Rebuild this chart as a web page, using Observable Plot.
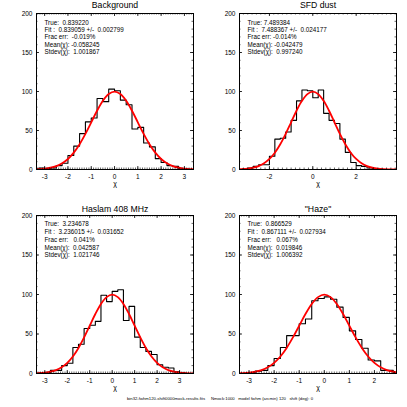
<!DOCTYPE html>
<html><head><meta charset="utf-8">
<script src="https://cdn.jsdelivr.net/npm/d3@7"></script>
<script src="https://cdn.jsdelivr.net/npm/@observablehq/plot@0.6"></script>
<style>
html,body{margin:0;padding:0;background:#fff;}
#root{position:relative;width:407px;height:407px;overflow:hidden;background:#fff;}
.panel{position:absolute;}
svg text{white-space:pre;}
</style></head><body><div id="root"></div>
<script>
// ---------- data ----------
const titles = ["Background", "SFD dust", "Haslam 408 MHz", "\"Haze\""];
const binLower = [-3.5,-3.25,-3.0,-2.75,-2.5,-2.25,-2.0,-1.75,-1.5,-1.25,-1.0,-0.75,-0.5,-0.25,0,
                  0.25,0.5,0.75,1.0,1.25,1.5,1.75,2.0,2.25,2.5,2.75,3.0,3.25,3.5,3.75];
const binWidth = 0.25;
const countsBackground = [0,2,1,2,5,8,18,30,46,61,66,91,87,103,101,89,83,52,54,34,29,14,9,5,4,1,0,0,0,0];
const countsSFD        = [0,1,2,4,6,6,17,39,40,48,63,88,102,101,92,102,72,63,59,39,22,9,5,4,2,1,0,0,0,0];
const countsHaslam     = [0,1,1,4,4,10,13,33,37,57,61,66,99,91,104,106,67,85,46,33,28,24,11,8,7,2,1,0,0,0];
const countsHaze       = [0,0,1,3,4,10,19,33,48,48,63,69,92,95,97,94,84,71,54,43,32,17,16,4,4,1,0,0,0,0];
const counts = [countsBackground, countsSFD, countsHaslam, countsHaze];

// red model curve (unit gaussian scaled to the histogram)
const curveX = [-4,-3.75,-3.5,-3.25,-3,-2.75,-2.5,-2.25,-2,-1.75,-1.5,-1.25,-1,-0.75,-0.5,-0.25,0,
                0.25,0.5,0.75,1,1.25,1.5,1.75,2,2.25,2.5,2.75,3,3.25,3.5,3.75,4];
const curveY = [0.03,0.09,0.22,0.51,1.11,2.27,4.38,7.94,13.50,21.57,32.38,45.66,60.49,75.29,88.02,96.67,99.73,
                96.67,88.02,75.29,60.49,45.66,32.38,21.57,13.50,7.94,4.38,2.27,1.11,0.51,0.22,0.09,0.03];

const statLines = [
  ["True:  0.839220", "Fit :  0.839059 +/-  0.002799", "Frac err:  -0.019%", "Mean(χ): -0.058245", "Stdev(χ):  1.001867"],
  ["True: 7.489384", "Fit :  7.488367 +/-  0.024177", "Frac err: -0.014%", "Mean(χ): -0.042479", "Stdev(χ):  0.997240"],
  ["True:  3.234678", "Fit :  3.236015 +/-  0.031652", "Frac err:   0.041%", "Mean(χ):  0.042587", "Stdev(χ):  1.021746"],
  ["True:  0.866529", "Fit :  0.867111 +/-  0.027934", "Frac err:   0.067%", "Mean(χ):  0.019846", "Stdev(χ):  1.006392"]
];
const xDomains = [[-3.35, 3.39], [-3.38, 3.86], [-3.37, 3.62], [-3.38, 2.88]];
const xMajorTicks = [[-3,-2,-1,0,1,2,3], [-2,0,2], [-3,-2,-1,0,1,2,3], [-3,-2,-1,0,1,2]];
const xMinorStep = [0.1, 0.2, 0.1, 0.1];
const yDomain = [0, 200];
const yMajorTicks = [0, 50, 100, 150, 200];
const yMinorStep = 10;
const xLabel = "χ";
const caption = "bin32-fwhm120-shift0000mock-results.fits     Nmock:1000   model fwhm (arcmin) 120   shift (deg): 0";

// ---------- layout ----------
const layout = [
  {left: 0,   top: 0,   height: 200, mt: 13, mb: 31, titleDy: -5.3, statDy: 11, statStep: 7.4},
  {left: 203, top: 0,   height: 200, mt: 13, mb: 31, titleDy: -5.3, statDy: 11, statStep: 7.4},
  {left: 0,   top: 200, height: 207, mt: 15, mb: 34, titleDy: -3.5, statDy: 10.6, statStep: 7.8},
  {left: 203, top: 200, height: 207, mt: 15, mb: 34, titleDy: -3.5, statDy: 10.6, statStep: 7.8}
];
const font = "'Liberation Sans', Arial, Helvetica, sans-serif";
const root = document.getElementById("root");

function rangeStep(a, b, s) {
  const k0 = Math.ceil(a / s - 1e-9), k1 = Math.floor(b / s + 1e-9);
  return d3.range(k0, k1 + 1).map(k => +(k * s).toFixed(6));
}

for (let i = 0; i < 4; i++) {
  const L = layout[i];
  const width = 204, ml = 36, mr = 11;
  const fw = width - ml - mr, fh = L.height - L.mt - L.mb;
  const c = counts[i];
  const hist = binLower.map((e, j) => ({x: e, y: c[j]}));
  hist.push({x: binLower[binLower.length - 1] + binWidth, y: c[c.length - 1]});
  const fit = curveX.map((x, j) => ({x, y: curveY[j]}));
  const xMinor = rangeStep(xDomains[i][0], xDomains[i][1], xMinorStep[i]);
  const yMinor = rangeStep(yDomain[0], yDomain[1], yMinorStep);
  const xMajor = xMajorTicks[i];

  const marks = [
    Plot.line(hist, {x: "x", y: "y", curve: "step-after", stroke: "#000", strokeWidth: 1.1, clip: true}),
    Plot.line(fit, {x: "x", y: "y", curve: "catmull-rom", stroke: "#ff0000", strokeWidth: 1.8, clip: true}),
    Plot.frame({stroke: "#000", strokeWidth: 1}),
    Plot.tickX(xMajor, {x: d => d, insetTop: fh - 3, strokeWidth: 0.8}),
    Plot.tickX(xMajor, {x: d => d, insetBottom: fh - 3, strokeWidth: 0.8}),
    Plot.tickX(xMinor, {x: d => d, insetTop: fh - 1.5, strokeWidth: 0.6}),
    Plot.tickX(xMinor, {x: d => d, insetBottom: fh - 1.5, strokeWidth: 0.6}),
    Plot.tickY(yMajorTicks, {y: d => d, insetRight: fw - 3, strokeWidth: 0.8}),
    Plot.tickY(yMajorTicks, {y: d => d, insetLeft: fw - 3, strokeWidth: 0.8}),
    Plot.tickY(yMinor, {y: d => d, insetRight: fw - 1.5, strokeWidth: 0.6}),
    Plot.tickY(yMinor, {y: d => d, insetLeft: fw - 1.5, strokeWidth: 0.6}),
    Plot.text([titles[i]], {text: d => d, frameAnchor: "top", lineAnchor: "bottom", dy: L.titleDy, fontSize: 8.7}),
    Plot.text([xLabel], {text: d => d, frameAnchor: "bottom", lineAnchor: "bottom", dy: 16, fontSize: 7})
  ];
  statLines[i].forEach((s, j) => {
    marks.push(Plot.text([s], {text: d => d, frameAnchor: "top-left", textAnchor: "start", lineAnchor: "bottom",
      dx: 8, dy: L.statDy + j * L.statStep, fontSize: 6.3}));
  });

  const p = Plot.plot({
    width, height: L.height,
    marginLeft: ml, marginRight: mr, marginTop: L.mt, marginBottom: L.mb,
    style: {fontFamily: font, fontSize: "6.5px", color: "#000", background: "transparent", overflow: "visible"},
    x: {domain: xDomains[i], ticks: xMajor, tickSize: 0, tickPadding: 5, label: null, tickFormat: d => String(d)},
    y: {domain: yDomain, ticks: yMajorTicks, tickSize: 0, tickPadding: 4, label: null, tickFormat: d => String(d)},
    marks
  });
  p.classList.add("panel");
  p.style.left = L.left + "px";
  p.style.top = L.top + "px";
  root.appendChild(p);
}

// caption overlay
const ov = d3.select(root).append("svg")
  .attr("width", 407).attr("height", 407)
  .style("position", "absolute").style("left", "0px").style("top", "0px").style("pointer-events", "none");
ov.append("text")
  .attr("x", 127).attr("y", 399.6)
  .attr("font-family", font).attr("font-size", 4).attr("fill", "#000")
  .attr("textLength", 186).attr("lengthAdjust", "spacingAndGlyphs")
  .text(caption);
</script></body></html>
